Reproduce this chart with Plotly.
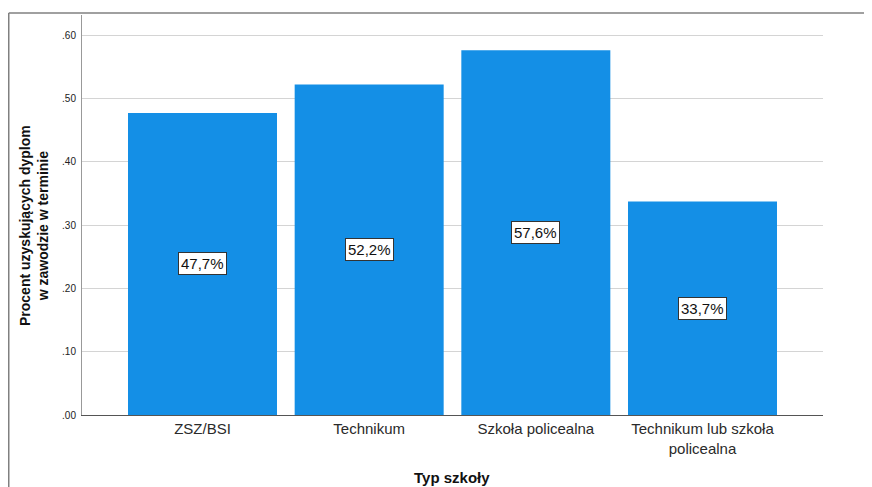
import plotly.graph_objects as go

categories = ["ZSZ/BSI", "Technikum", "Szkoła policealna", "Technikum lub szkoła<br>policealna"]
values = [0.477, 0.522, 0.576, 0.337]
bar_labels = ["47,7%", "52,2%", "57,6%", "33,7%"]
y_tick_vals = [0.0, 0.1, 0.2, 0.3, 0.4, 0.5, 0.6]
y_tick_text = [".00", ".10", ".20", ".30", ".40", ".50", ".60"]

# page has an 8px body margin, so the figure is laid out 8px smaller
OFF = 8
W, H = 872 - OFF, 487 - OFF
L, T = 82 - OFF, 15 - OFF
R = W - (823 - OFF)
B = H - (415 - OFF)
pw, ph = W - L - R, H - T - B

def px_x(p):
    return (p - OFF - L) / pw

def px_y(p):
    return (H - B - (p - OFF)) / ph

FONT = "Liberation Sans, Arial, sans-serif"
BAR = "#148fe6"

fig = go.Figure()
fig.add_trace(go.Bar(
    x=list(range(len(categories))), y=values,
    marker=dict(color=BAR, line=dict(width=0)),
    width=0.894, hoverinfo="skip",
))

annotations = []
for i, (v, lab) in enumerate(zip(values, bar_labels)):
    annotations.append(dict(
        x=i, y=v / 2, xref="x", yref="y", text=lab, showarrow=False,
        font=dict(family=FONT, size=15, color="#111111"),
        bgcolor="white", bordercolor="#333333", borderwidth=1, borderpad=2,
    ))

annotations.append(dict(
    x=px_x(34), y=px_y(226), xref="paper", yref="paper",
    text="<b>Procent uzyskujących dyplom<br>w zawodzie w terminie</b>",
    textangle=-90, showarrow=False, xanchor="center", yanchor="middle",
    font=dict(family=FONT, size=14, color="#111111"),
))
annotations.append(dict(
    x=px_x(452), y=px_y(477), xref="paper", yref="paper",
    text="<b>Typ szkoły</b>", showarrow=False, xanchor="center", yanchor="middle",
    font=dict(family=FONT, size=15, color="#111111"),
))

shapes = [
    dict(type="line", xref="paper", yref="paper", x0=px_x(8.75), x1=px_x(880),
         y0=px_y(13), y1=px_y(13), line=dict(color="#808080", width=1.5)),
    dict(type="line", xref="paper", yref="paper", x0=px_x(8.75), x1=px_x(8.75),
         y0=px_y(13), y1=px_y(495), line=dict(color="#808080", width=1.5)),
]

fig.update_layout(
    width=W, height=H,
    margin=dict(l=L, r=R, t=T, b=B),
    paper_bgcolor="white", plot_bgcolor="white",
    showlegend=False,
    annotations=annotations, shapes=shapes,
    xaxis=dict(
        tickmode="array", tickvals=list(range(len(categories))), ticktext=categories,
        range=[-0.723, 3.723], showgrid=False, zeroline=False,
        showline=True, linecolor="#555555", linewidth=1, ticks="",
        tickfont=dict(family=FONT, size=15, color="#2a2a2a"),
    ),
    yaxis=dict(
        range=[0, 0.6316], tickmode="array", tickvals=y_tick_vals, ticktext=y_tick_text,
        showgrid=True, gridcolor="#d4d4d4", gridwidth=1, zeroline=False,
        showline=True, linecolor="#999999", linewidth=1, ticks="",
        ticklabelstandoff=3,
        tickfont=dict(family=FONT, size=10, color="#222222"),
    ),
)

fig.write_html("out.html")
